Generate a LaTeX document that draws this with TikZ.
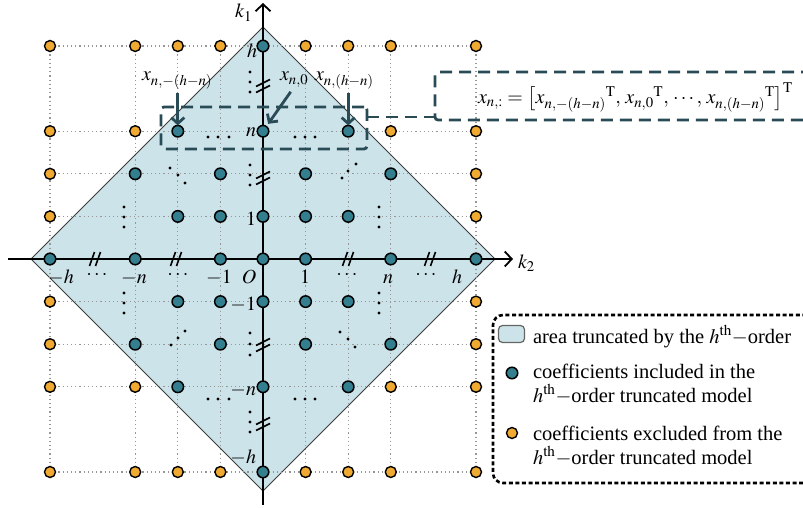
\documentclass[tikz,border=0pt]{standalone}
\usepackage{mathptmx}
\usepackage{fontspec}
\setmainfont{Liberation Serif}
\newfontfamily\tnr{Liberation Serif}
\usetikzlibrary{arrows.meta}
\definecolor{tealc}{RGB}{52,127,143}
\definecolor{orangec}{RGB}{240,170,50}
\definecolor{fillc}{RGB}{205,227,234}
\definecolor{edgec}{RGB}{60,60,60}
\definecolor{darkc}{RGB}{40,75,85}
\definecolor{gridc}{RGB}{150,150,150}
\definecolor{swc}{RGB}{100,100,100}
\newcommand{\hbrk}[1]{\draw[brk] ({#1-5.5},266) -- ({#1-0.5},252) ({#1+0.5},266) -- ({#1+5.5},252);}
\newcommand{\vbrk}[1]{\draw[brk] (256,{#1+0.5}) -- (270,{#1-6.5}) (256,{#1+6.5}) -- (270,{#1-0.5});}
\begin{document}
\begin{tikzpicture}[x=1pt,y=-1pt,
  every node/.style={inner sep=0pt, outer sep=0pt},
  incl/.style={circle, draw=black, line width=1.5pt, fill=tealc, minimum size=11.5pt},
  excl/.style={circle, draw=black, line width=1.4pt, fill=orangec, minimum size=11pt},
  gridln/.style={draw=gridc, line width=1.2pt, dash pattern=on 1.2pt off 3pt},
  axisln/.style={line width=1.8pt, -{Straight Barb[length=7pt,width=15pt,line width=1.8pt]}},
  brk/.style={line width=1.6pt},
  lab/.style={font=\tnr\fontsize{20}{24}\selectfont},
  leg/.style={font=\tnr\fontsize{20.5}{23}\selectfont},
  ptr/.style={draw=darkc, line width=2.8pt, -{Straight Barb[length=6pt,width=13pt,line width=2.8pt]}},
  dbox/.style={draw=darkc, line width=2.8pt, dash pattern=on 12pt off 7pt, rounded corners=3pt},
  dconn/.style={draw=darkc, line width=2.8pt, dash pattern=on 12pt off 7pt},
  lbox/.style={draw=black, line width=2.6pt, dash pattern=on 4pt off 2.6pt, rounded corners=10pt}
]
\useasboundingbox (0,0) rectangle (803,508);
% truncated area
\filldraw[fill=fillc, draw=edgec, line width=1pt] (31,259) -- (263,27) -- (495,259) -- (263,491) -- cycle;
% grid
\foreach \y in {46,131.2,173.8,216.4,301.6,344.2,386.8,472}
  \draw[gridln] (50,\y) -- (476,\y);
\foreach \x in {50,135.2,177.8,220.4,305.6,348.2,390.8,476}
  \draw[gridln] (\x,46) -- (\x,472);
% axes
\coordinate (yb) at (263,505);
\coordinate (yt) at (263,3);
\coordinate (xl) at (8,259);
\coordinate (xr) at (513,259);
\draw[axisln] (yb) -- (yt);
\draw[axisln] (xl) -- (xr);
\hbrk{95}\hbrk{176}\hbrk{348}\hbrk{430}
\vbrk{86}\vbrk{178}\vbrk{345}\vbrk{424}
% ellipsis dots
\foreach \p in {(250,72),(250,82),(250,92),(250,165),(250,175),(250,185),
  (250,333),(250,344),(250,355),(250,412),(250,422),(250,432),
  (124,207),(124,217),(124,227),(124,293),(124,303),(124,313),
  (379,207),(379,217),(379,227),(379,293),(379,303),(379,313),
  (208,137),(218,137),(229,137),(295,137),(305,137),(315,137),
  (208,399),(218,399),(229,399),(295,399),(305,399),(315,399),
  (170,168),(178,175),(185,183),(342,178),(348,171),(356,164),
  (171,345),(178,338),(185,331),(340,332),(348,339),(355,347)}
  \fill \p circle[radius=1.7pt];
% coefficients
\foreach \i/\j in {0/5,-2/3,0/3,2/3,-3/2,-1/2,1/2,3/2,-2/1,-1/1,0/1,1/1,2/1,
  -5/0,-3/0,-1/0,0/0,1/0,3/0,5/0,-2/-1,-1/-1,0/-1,1/-1,2/-1,
  -3/-2,-1/-2,1/-2,3/-2,-2/-3,0/-3,2/-3,0/-5}
  \node[incl] (in\i_\j) at ({263+42.6*\i},{259-42.6*\j}) {};
\foreach \i/\j in {-5/5,-3/5,-2/5,-1/5,1/5,2/5,3/5,5/5,-5/3,-3/3,3/3,5/3,
  -5/2,5/2,-5/1,5/1,-5/-1,5/-1,-5/-2,5/-2,-5/-3,-3/-3,3/-3,5/-3,
  -5/-5,-3/-5,-2/-5,-1/-5,1/-5,2/-5,3/-5,5/-5}
  \node[excl] (ex\i_\j) at ({263+42.6*\i},{259-42.6*\j}) {};
% axis labels
\node[lab, anchor=base east] (k1) at (252,18) {$k_1$};
\node[lab, anchor=base west] (k2) at (518,268) {$k_2$};
\node[lab, anchor=base east] (lh) at (257,58) {$h$};
\node[lab, anchor=base east] (ln) at (256,137) {$n$};
\node[lab, anchor=base east] (l1) at (256,225) {$1$};
\node[lab, anchor=base east] (lm1) at (256,310) {$-1$};
\node[lab, anchor=base east] (lmn) at (256,395) {$-n$};
\node[lab, anchor=base east] (lmh) at (256,463) {$-h$};
\node[lab, anchor=base] (hmh) at (61,283) {$-h$};
\node[lab, anchor=base] (hd1) at (97,279) {$\cdots$};
\node[lab, anchor=base] (hmn) at (134,283) {$-n$};
\node[lab, anchor=base] (hd2) at (178,279) {$\cdots$};
\node[lab, anchor=base] (hm1) at (219,283) {$-1$};
\node[lab, anchor=base] (hO) at (249,283) {$O$};
\node[lab, anchor=base] (h1) at (305,283) {$1$};
\node[lab, anchor=base] (hd3) at (347,279) {$\cdots$};
\node[lab, anchor=base] (hn) at (388,283) {$n$};
\node[lab, anchor=base] (hd4) at (426,279) {$\cdots$};
\node[lab, anchor=base] (hh) at (457,283) {$h$};
% pointers
\node[lab, anchor=base west] (lbl1) at (142,81) {$x_{n,-(h-n)}$};
\node[lab, anchor=base west] (lbl2) at (280,81) {$x_{n,0}$};
\node[lab, anchor=base west] (lbl3) at (315,81) {$x_{n,(h-n)}$};
\draw[ptr, shorten <=4pt] (lbl1.south -| in-2_3) -- (in-2_3.north);
\draw[ptr, shorten <=6pt, shorten >=9pt] (lbl2.south) -- (in0_3.center);
\draw[ptr, shorten <=4pt] (lbl3.south -| in2_3) -- (in2_3.north);
% boxes
\node[dbox, minimum width=206pt, minimum height=42pt] (rowbox) at (264,128) {};
\node[dbox, minimum width=400pt, minimum height=48pt, anchor=west] (fbox) at (435,96) {};
\coordinate (cy) at (0,117);
\draw[dconn] (rowbox.east |- cy) -- (fbox.west |- cy);
\node[lab, anchor=base west] (formula) at (478,104)
  {$x_{n,:} = \big[{x_{n,-(h-n)}}^{\mathrm{T}},\, {x_{n,0}}^{\mathrm{T}},\, \cdots,\, {x_{n,(h-n)}}^{\mathrm{T}}\big]^{\mathrm{T}}$};
% legend
\node[lbox, minimum width=330pt, minimum height=168pt, anchor=north west] (legend) at (493,315) {};
\node[draw=swc, fill=fillc, line width=1.2pt, rounded corners=4pt, minimum width=26pt, minimum height=17pt] (sw) at (511.5,334) {};
\node[leg, anchor=base west] (t1) at (533,343) {area truncated by the $h^{\mathrm{th}}{-}$order};
\node[incl] (ld1) at (512,373) {};
\node[leg, anchor=base west] (t2a) at (533,378) {coefficients included in the};
\node[leg, anchor=base west] (t2b) at (533,402) {$h^{\mathrm{th}}{-}$order truncated model};
\node[excl] (ld2) at (512,433) {};
\node[leg, anchor=base west] (t3a) at (533,440) {coefficients excluded from the};
\node[leg, anchor=base west] (t3b) at (533,464) {$h^{\mathrm{th}}{-}$order truncated model};
\end{tikzpicture}
\end{document}
